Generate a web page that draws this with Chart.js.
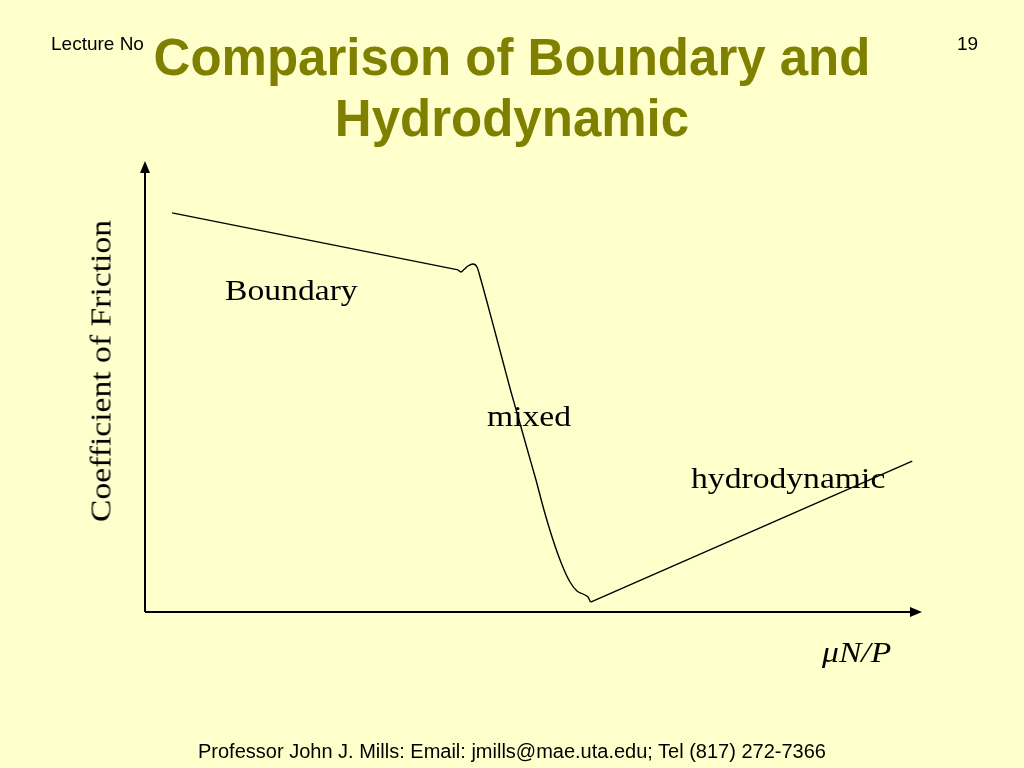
<!DOCTYPE html>
<html>
<head>
<meta charset="utf-8">
<script src="https://cdn.jsdelivr.net/npm/chart.js@4.4.1/dist/chart.umd.min.js"></script>
<style>
  html, body { margin:0; padding:0; background:#FFFFCC; width:1024px; height:768px; overflow:hidden; }
  #wrap { position:relative; width:1024px; height:768px; }
  canvas { position:absolute; left:0; top:0; }
  .t { position:absolute; white-space:nowrap; color:#000; }
  #title { left:0; width:1024px; top:27px; text-align:center; font-family:"Liberation Sans", Arial, sans-serif; font-weight:bold; font-size:51px; line-height:61px; color:#808000; }
  #lec { left:51px; top:33px; font-family:"Liberation Sans", Arial, sans-serif; font-size:19px; }
  #num { left:957px; top:33px; font-family:"Liberation Sans", Arial, sans-serif; font-size:19px; }
  #foot { left:0; width:1024px; text-align:center; top:740px; font-family:"Liberation Sans", Arial, sans-serif; font-size:20px; }
  .serif { font-family:"Liberation Serif", "Times New Roman", serif; font-size:29px; line-height:1; transform-origin:0 0; transform:scaleX(1.16); }
  #ylab { left:101px; top:371px; transform:translate(-50%,-50%) rotate(-90deg) scaleX(1.16); transform-origin:50% 50%; }
</style>
</head>
<body>
<div id="wrap">
  <canvas id="c" width="1024" height="768"></canvas>
  <div class="t" id="title">Comparison of Boundary and<br>Hydrodynamic</div>
  <div class="t" id="lec">Lecture No</div>
  <div class="t" id="num">19</div>
  <div class="t serif" style="left:225px;top:276px;">Boundary</div>
  <div class="t serif" style="left:487px;top:402px;">mixed</div>
  <div class="t serif" style="left:691px;top:464px;">hydrodynamic</div>
  <div class="t serif" style="left:822px;top:638px;font-style:italic;">μN/P</div>
  <div class="t serif" id="ylab">Coefficient of Friction</div>
  <div class="t" id="foot">Professor John J. Mills: Email: jmills@mae.uta.edu; Tel (817) 272-7366</div>
</div>
<script>
// Data (x = μN/P, y = coefficient of friction, arbitrary units 0–100)
const boundaryX = [3.5, 40.4];
const boundaryY = [88.9, 76.2];
const mixedX = [40.39, 40.77, 41.16, 41.68, 42.32, 42.84, 43.35, 44.06, 45.10, 46.13, 47.16, 48.26, 49.35, 50.45, 51.48, 52.65, 53.81, 54.84, 55.74, 56.65, 57.16, 57.48];
const mixedY = [76.17, 75.72, 76.28, 77.06, 77.51, 76.84, 73.94, 69.49, 62.81, 56.12, 49.44, 42.76, 36.08, 29.40, 22.72, 16.04, 10.47, 6.68, 4.68, 3.90, 3.34, 2.23];
const hydroX = [57.5, 99.0];
const hydroY = [2.2, 33.6];
const axisMin = 0, axisMax = 100;

const pts = (xs, ys) => xs.map((x, i) => ({x, y: ys[i]}));

const axesPlugin = {
  id: 'axesArrows',
  beforeDatasetsDraw(chart) {
    const {ctx, scales:{x, y}} = chart;
    const x0 = x.getPixelForValue(axisMin), x1 = x.getPixelForValue(axisMax);
    const y0 = y.getPixelForValue(axisMin), y1 = y.getPixelForValue(axisMax);
    ctx.save();
    ctx.strokeStyle = '#000'; ctx.fillStyle = '#000'; ctx.lineWidth = 2;
    ctx.beginPath();
    ctx.moveTo(x0, y0); ctx.lineTo(x1 - 6, y0);
    ctx.moveTo(x0, y0); ctx.lineTo(x0, y1 + 6);
    ctx.stroke();
    ctx.beginPath();
    ctx.moveTo(x1 + 2, y0); ctx.lineTo(x1 - 10, y0 - 5); ctx.lineTo(x1 - 10, y0 + 5); ctx.closePath(); ctx.fill();
    ctx.beginPath();
    ctx.moveTo(x0, y1 - 2); ctx.lineTo(x0 - 5, y1 + 10); ctx.lineTo(x0 + 5, y1 + 10); ctx.closePath(); ctx.fill();
    ctx.restore();
  }
};

new Chart(document.getElementById('c'), {
  type: 'scatter',
  data: {
    datasets: [
      { label: 'Boundary', data: pts(boundaryX, boundaryY), showLine: true, tension: 0 },
      { label: 'mixed', data: pts(mixedX, mixedY), showLine: true, cubicInterpolationMode: 'monotone' },
      { label: 'hydrodynamic', data: pts(hydroX, hydroY), showLine: true, tension: 0 }
    ]
  },
  options: {
    responsive: false,
    animation: false,
    layout: { padding: { left: 145, right: 104, top: 163, bottom: 156 } },
    elements: {
      point: { radius: 0, hoverRadius: 0 },
      line: { borderColor: '#000', borderWidth: 1.4, fill: false }
    },
    plugins: { legend: { display: false }, tooltip: { enabled: false } },
    scales: {
      x: { type: 'linear', display: false, min: axisMin, max: axisMax },
      y: { type: 'linear', display: false, min: axisMin, max: axisMax }
    }
  },
  plugins: [axesPlugin]
});
</script>
</body>
</html>
